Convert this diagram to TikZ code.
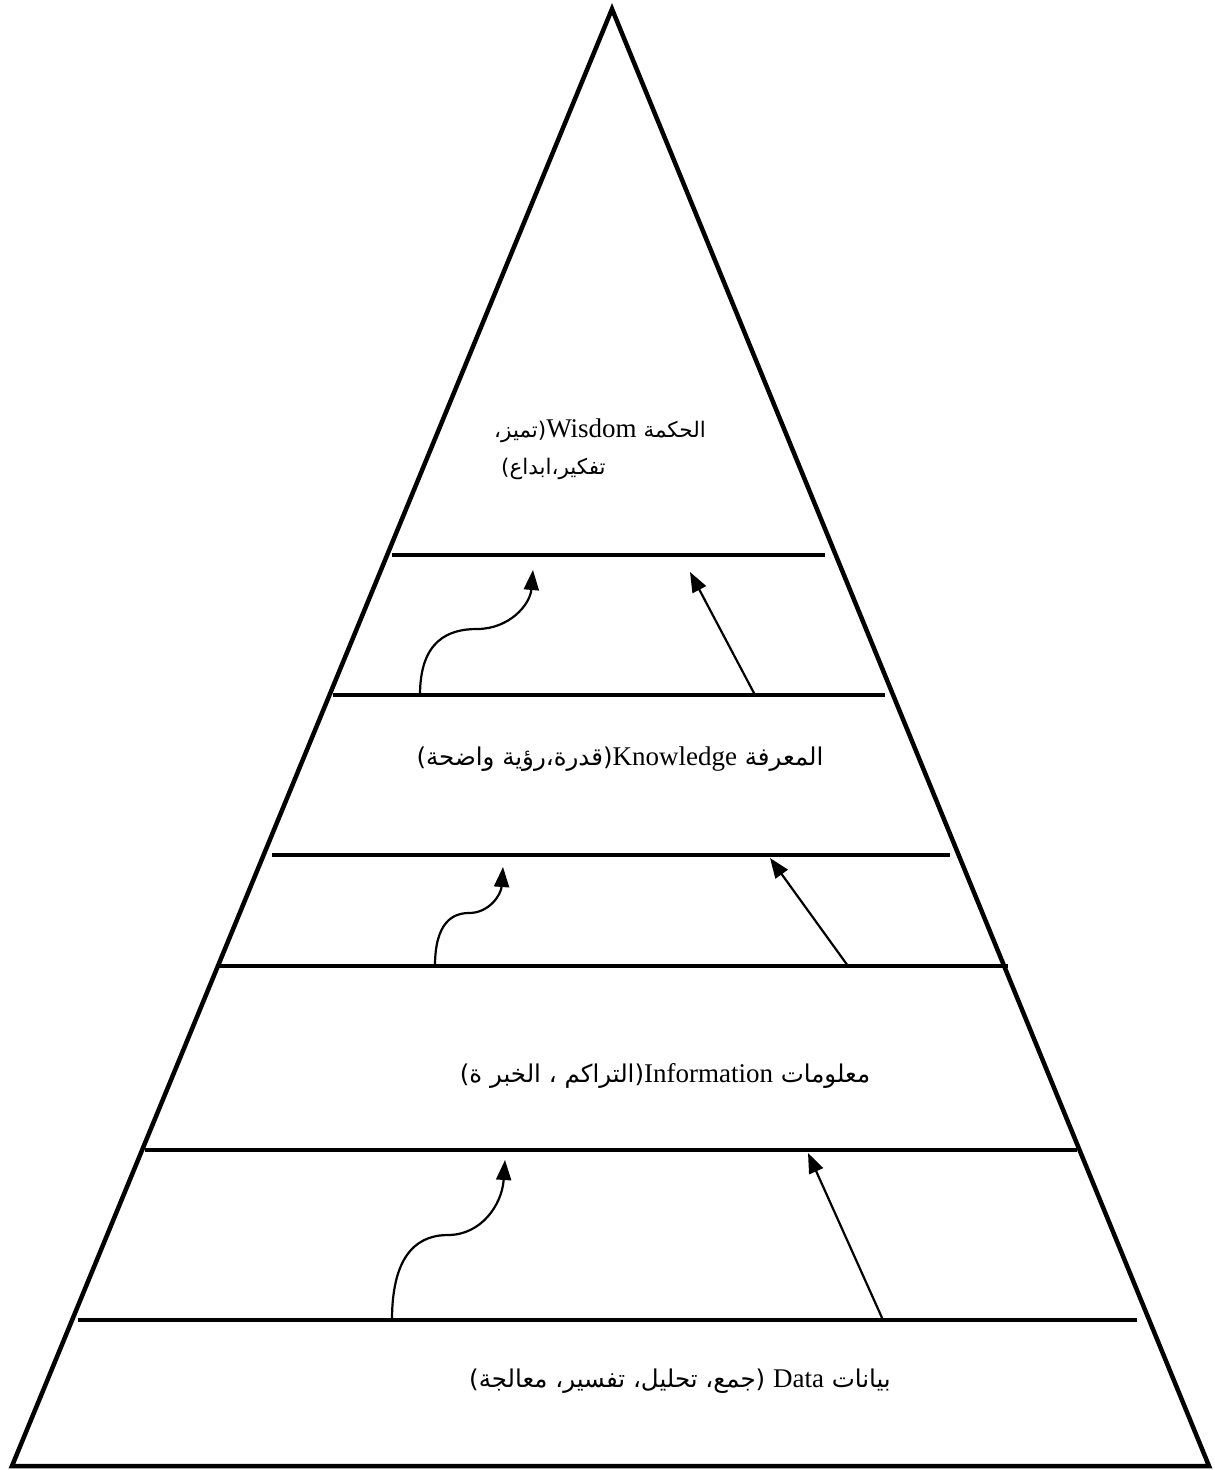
\documentclass[tikz,border=0pt]{standalone}
\usepackage{fontspec}
\setmainfont{Liberation Serif}
\newfontfamily\latinfont{Liberation Serif}
\newfontfamily\arabicfont[Script=Arabic]{DejaVu Sans}
\TeXXeTstate=1
\usetikzlibrary{arrows.meta}
\tikzset{
  edge/.style={line width=4.5pt, line join=miter},
  band/.style={line width=3.5pt},
  uparrow/.style={line width=2.2pt, -{Triangle[length=20pt,width=15pt]}},
  lbl/.style={inner sep=0pt, font=\fontsize{24.5}{29}\selectfont},
  wlbl/.style={inner sep=0pt, font=\fontsize{21.5}{26}\selectfont},
}
\newcommand{\lat}[1]{{\latinfont\fontsize{27}{32}\selectfont #1}}
\begin{document}
\begin{tikzpicture}[x=1pt,y=-1pt]
\useasboundingbox (0,0) rectangle (1215,1470);
% triangle
\coordinate (apex) at (612,9);
\coordinate (bl) at (12,1466);
\coordinate (br) at (1209,1466);
\draw[edge] (apex) -- (bl) -- (br) -- cycle;
% horizontal lines
\coordinate (l1a) at (392,555);  \coordinate (l1b) at (825,555);
\coordinate (l2a) at (333,695);  \coordinate (l2b) at (885,695);
\coordinate (l3a) at (272,855);  \coordinate (l3b) at (950,855);
\coordinate (l4a) at (218,966);  \coordinate (l4b) at (1008,966);
\coordinate (l5a) at (145,1150); \coordinate (l5b) at (1077,1150);
\coordinate (l6a) at (78,1320);  \coordinate (l6b) at (1137,1320);
\foreach \i in {1,...,6} \draw[band] (l\i a) -- (l\i b);
% arrows band 1
\coordinate (c1s) at (420,695); \coordinate (c1t) at (533,570);
\draw[uparrow] (c1s) .. controls (420,640) and (449,629) .. (477,629)
                     .. controls (509,629) and (530,605) .. (c1t);
\coordinate (s1s) at (755,695); \coordinate (s1t) at (690,572);
\draw[uparrow] (s1s) -- (s1t);
% arrows band 2
\coordinate (c2s) at (435,966); \coordinate (c2t) at (503,867);
\draw[uparrow] (c2s) .. controls (435,922) and (453,913) .. (469,913)
                     .. controls (489,913) and (501,895) .. (c2t);
\coordinate (s2s) at (848,966); \coordinate (s2t) at (770,858);
\draw[uparrow] (s2s) -- (s2t);
% arrows band 3
\coordinate (c3s) at (392,1320); \coordinate (c3t) at (505,1160);
\draw[uparrow] (c3s) .. controls (392,1250) and (421,1235) .. (448,1235)
                     .. controls (481,1235) and (502,1205) .. (c3t);
\coordinate (s3s) at (883,1320); \coordinate (s3t) at (808,1153);
\draw[uparrow] (s3s) -- (s3t);
% labels
\node[wlbl, anchor=base west] (w1) at (494,437) {\arabicfont\beginR الحكمة \lat{Wisdom}(تميز،\endR};
\node[wlbl, anchor=base west] (w2) at (501,474) {\arabicfont\beginR تفكير،ابداع)\endR};
\node[lbl, anchor=base] (kn) at (620,765) {\arabicfont\beginR المعرفة \lat{Knowledge}(قدرة،رؤية واضحة)\endR};
\node[lbl, anchor=base] (inf) at (665,1082) {\arabicfont\beginR معلومات \lat{Information}(التراكم ، الخبر ة)\endR};
\node[lbl, anchor=base] (dat) at (680,1387) {\arabicfont\beginR بيانات \lat{Data} (جمع، تحليل، تفسير، معالجة)\endR};
\end{tikzpicture}
\end{document}
